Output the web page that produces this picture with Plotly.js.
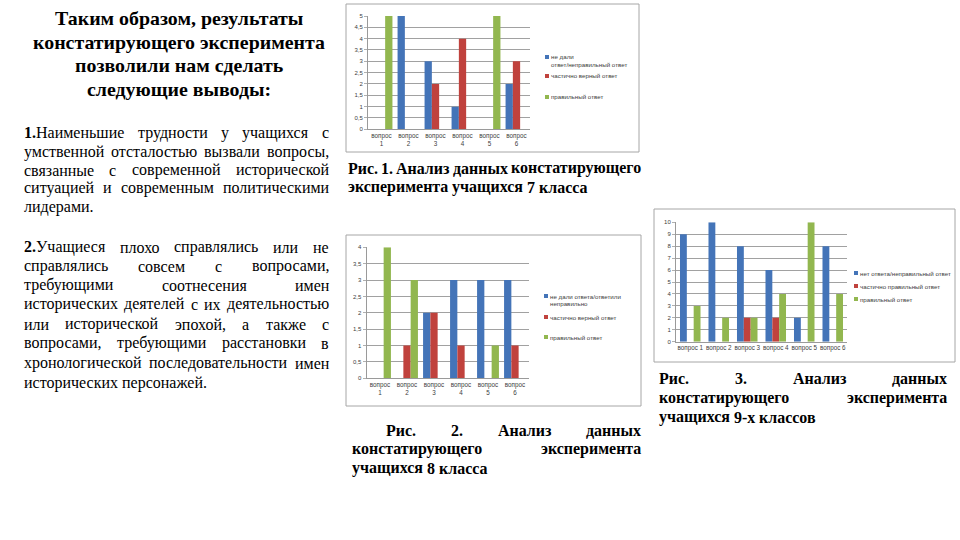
<!DOCTYPE html>
<html>
<head>
<meta charset="utf-8">
<script src="https://cdn.plot.ly/plotly-3.0.1.min.js"></script>
<style>html,body{margin:0;padding:0;background:#fff;}#chart{width:960px;height:540px;}</style>
</head>
<body>
<div id="chart"></div>
<script>
// ---------- DATA ----------
const questions = ['вопрос 1','вопрос 2','вопрос 3','вопрос 4','вопрос 5','вопрос 6'];

const names7 = ['не дали ответ/неправильный ответ','частично верный ответ','правильный ответ'];
const wrong7   = [0, 5, 3, 1, 0, 2];
const partial7 = [0, 0, 2, 4, 0, 3];
const right7   = [5, 0, 0, 0, 5, 0];

const names8 = ['не дали ответа/ответили неправильно','частично верный ответ','правильный ответ'];
const wrong8   = [0, 0, 2, 3, 3, 3];
const partial8 = [0, 1, 2, 1, 0, 1];
const right8   = [4, 3, 0, 0, 1, 0];

const names9 = ['нет ответа/неправильный ответ','частично правильный ответ','правильный ответ'];
const wrong9   = [9, 10, 8, 6, 2, 8];
const partial9 = [0, 0, 2, 2, 0, 0];
const right9   = [3, 2, 2, 4, 10, 4];

const titleLines = ['Таким образом, результаты','констатирующего эксперимента','позволили нам сделать','следующие выводы:'];
const para1 = ['<b>1.</b>Наименьшие трудности у учащихся с','умственной отсталостью вызвали вопросы,','связанные с современной исторической','ситуацией и современным политическими','лидерами.'];
const para2 = ['<b>2.</b>Учащиеся плохо справлялись или не','справлялись совсем с вопросами,','требующими соотнесения имен','исторических деятелей с их деятельностью','или исторической эпохой, а также с','вопросами, требующими расстановки в','хронологической последовательности имен','исторических персонажей.'];
const cap1 = ['Рис. 1. Анализ данных констатирующего','эксперимента учащихся 7 класса'];
const cap2 = ['Рис. 2. Анализ данных','констатирующего эксперимента','учащихся 8 класса'];
const cap3 = ['Рис. 3. Анализ данных','констатирующего эксперимента','учащихся 9-х классов'];

// ---------- STYLE / LAYOUT ----------
const W = 960, H = 540;
const colors = ['#4474B8', '#C0423D', '#92B74F'];
const SERIF = '"Liberation Serif", "DejaVu Serif", serif';
const SANS = '"Liberation Sans", Arial, sans-serif';

const charts = [
  {series:[wrong7, partial7, right7], names:names7, ax:'', x0:368, x1:530, yTop:16, yBot:129.3, max:5, dtick:0.5, slot:0.27, twoLine:true,
   frame:[346,4,639,152], legend:{x:545, ys:[57,76,97], maxW:77}},
  {series:[wrong8, partial8, right8], names:names8, ax:'2', x0:366.5, x1:528.5, yTop:247.3, yBot:378.3, max:4, dtick:0.5, slot:0.27, twoLine:true,
   frame:[346,235,641,406], legend:{x:544, ys:[296,317,337], maxW:88}},
  {series:[wrong9, partial9, right9], names:names9, ax:'3', x0:676, x1:847, yTop:222.3, yBot:341.7, max:10, dtick:1, slot:0.24, twoLine:false,
   frame:[654,209,955,362], legend:{x:854, ys:[273,286,299], maxW:105}}
];

const px = v => v / W;
const py = v => 1 - v / H;

const canvas = document.createElement('canvas');
const ctx = canvas.getContext('2d');
function measure(html, size, bold, family) {
  let total = 0;
  const re = /<b>(.*?)<\/b>/g;
  let last = 0, m;
  while ((m = re.exec(html)) !== null) {
    const before = html.slice(last, m.index);
    ctx.font = (bold ? 'bold ' : '') + size + 'px ' + family;
    total += ctx.measureText(before).width;
    ctx.font = 'bold ' + size + 'px ' + family;
    total += ctx.measureText(m[1]).width;
    last = re.lastIndex;
  }
  ctx.font = (bold ? 'bold ' : '') + size + 'px ' + family;
  total += ctx.measureText(html.slice(last)).width;
  return total;
}

const annotations = [];
const shapes = [];

function addText(text, x, y, size, bold, anchor, family, color) {
  annotations.push({xref:'paper', yref:'paper', x:px(x), y:py(y), xanchor:anchor||'left', yanchor:'middle',
    text: bold ? '<b>' + text + '</b>' : text, showarrow:false, borderpad:0, borderwidth:0,
    font:{family:family||SERIF, size:size, color:color||'#000'}});
}

function justifyLine(line, x0, x1, y, size, bold, justify) {
  const words = line.split(' ');
  const widths = words.map(w => measure(w, size, bold, SERIF));
  const total = widths.reduce((a,b)=>a+b,0);
  let gap = measure(' ', size, bold, SERIF);
  if (justify && words.length > 1) gap = (x1 - x0 - total) / (words.length - 1);
  let x = x0;
  words.forEach((w,i) => { addText(w, x, y, size, bold, 'left'); x += widths[i] + gap; });
}

function paragraph(lines, x0, x1, ys, size, bold, firstX0) {
  lines.forEach((l,i) => {
    const isLast = i === lines.length - 1;
    justifyLine(l, (i===0 && firstX0!==undefined) ? firstX0 : x0, x1, ys[i], size, bold, !isLast);
  });
}

function wrapText(text, maxW, size) {
  const words = text.split(' ');
  const lines = [];
  let cur = '';
  words.forEach(w => {
    const t = cur ? cur + ' ' + w : w;
    if (cur && measure(t, size, false, SANS) > maxW) { lines.push(cur); cur = w; }
    else cur = t;
  });
  if (cur) lines.push(cur);
  return lines;
}

function build() {
  const titleSize = Math.min(20, 18 * 292 / measure(titleLines[1], 18, true, SERIF));
  const capSize = Math.min(17, 15 * 240 / measure(cap1[1], 15, true, SERIF));
  const paraSize = Math.min(17, 15 * 183 / measure(para2[7], 15, false, SERIF));

  titleLines.forEach((t,i) => addText(t, 179, [18,42,65,89][i], titleSize, true, 'center'));
  paragraph(para1, 24, 329, [133,152,170,188,207], paraSize, false);
  paragraph(para2, 24, 329, [247,266,285,304,324,343,363,383], paraSize, false);
  paragraph(cap1, 348, 641, [168,187], capSize, true);
  paragraph(cap2, 352, 641, [430,449,468], capSize, true, 386);
  paragraph(cap3, 659, 947, [378,398,417], capSize, true);

  const data = [];
  const layout = {
    width: W, height: H, margin:{l:0,r:0,t:0,b:0}, paper_bgcolor:'#fff', plot_bgcolor:'#fff',
    showlegend:false, separators:', ', annotations, shapes, hovermode:false
  };

  charts.forEach(c => {
    shapes.push({type:'rect', xref:'paper', yref:'paper', x0:px(c.frame[0]), x1:px(c.frame[2]), y0:py(c.frame[3]), y1:py(c.frame[1]),
      line:{color:'#a6a6a6', width:1}, fillcolor:'rgba(0,0,0,0)', layer:'below'});
    const xa = 'x' + c.ax, ya = 'y' + c.ax;
    c.series.forEach((vals, i) => {
      data.push({type:'bar', x:questions, y:vals, name:c.names[i], xaxis:xa, yaxis:ya,
        offset:(i - 1.5) * c.slot, width:c.slot, marker:{color:colors[i], line:{width:0}}, hoverinfo:'skip'});
    });
    layout['xaxis' + c.ax] = {domain:[px(c.x0), px(c.x1)], anchor:ya, type:'category', range:[-0.5, 5.5],
      tickmode:'array', tickvals:questions, ticktext: c.twoLine ? questions.map(q => q.replace(' ', '<br>')) : questions,
      showgrid:false, showline:true, linecolor:'#9a9a9a', linewidth:1, ticks:'', zeroline:false,
      tickfont:{family:SANS, size:6.3, color:'#404040'}, fixedrange:true};
    layout['yaxis' + c.ax] = {domain:[py(c.yBot), py(c.yTop)], anchor:xa, range:[0, c.max], dtick:c.dtick, tick0:0,
      showgrid:true, gridcolor:'#8a8a8a', gridwidth:0.8, showline:true, linecolor:'#9a9a9a', linewidth:1,
      ticks:'outside', ticklen:3, tickcolor:'#b0b0b0', zeroline:false,
      tickfont:{family:SANS, size:6, color:'#404040'}, fixedrange:true};
    c.names.forEach((n, i) => {
      const y = c.legend.ys[i];
      shapes.push({type:'rect', xref:'paper', yref:'paper', x0:px(c.legend.x), x1:px(c.legend.x + 4), y0:py(y + 2), y1:py(y - 2),
        line:{width:0}, fillcolor:colors[i]});
      const lines = wrapText(n, c.legend.maxW, 6.2);
      lines.forEach((l, k) => addText(l, c.legend.x + 6, y + k * 7.5, 6.2, false, 'left', SANS, '#404040'));
    });
  });

  Plotly.newPlot('chart', data, layout, {staticPlot:true, displayModeBar:false});
}

const fontLoads = [
  '15px "Liberation Serif"', 'bold 15px "Liberation Serif"', '6px "Liberation Sans"'
].map(f => document.fonts && document.fonts.load ? document.fonts.load(f).catch(()=>{}) : Promise.resolve());
Promise.all(fontLoads).then(build, build);
</script>
</body>
</html>
